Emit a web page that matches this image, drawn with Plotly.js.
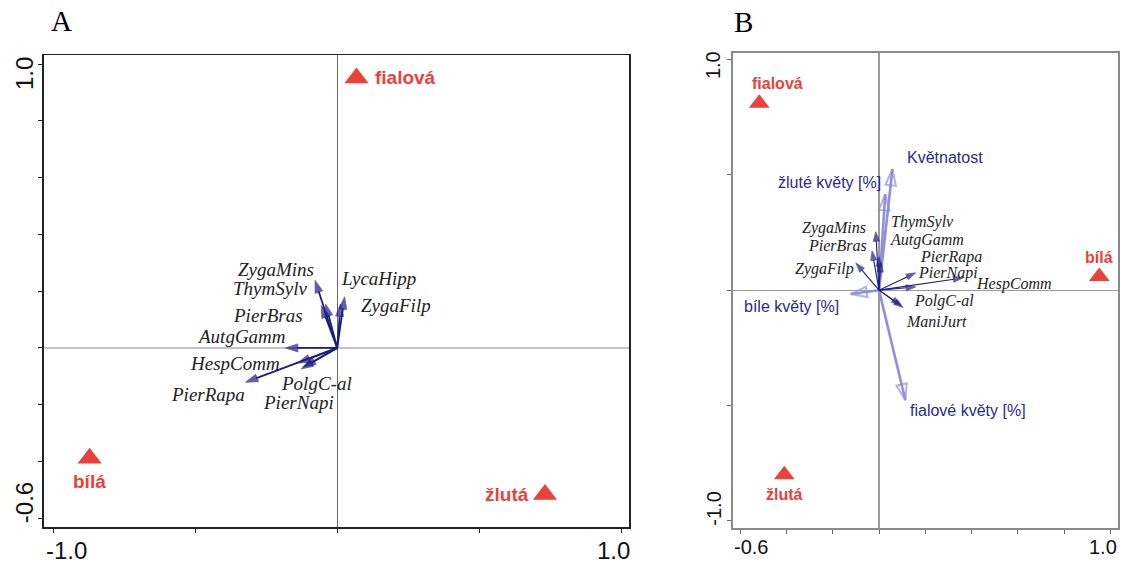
<!DOCTYPE html>
<html>
<head>
<meta charset="utf-8">
<script src="https://cdn.plot.ly/plotly-3.0.1.min.js"></script>
<style>
  html, body { margin: 0; padding: 0; background: #fff; }
  #chart { width: 1124px; height: 563px; }
</style>
</head>
<body>
<div id="chart"></div>
<script>
// ---------- Panel A: flower colour centroids and butterfly species ----------
const colourNamesA = ['fialová', 'bílá', 'žlutá'];
const colourXA = [0.068, -0.872, 0.732];
const colourYA = [0.951, -0.389, -0.516];

const speciesA = ['ZygaMins', 'ThymSylv', 'PierBras', 'LycaHipp', 'ZygaFilp',
                  'AutgGamm', 'HespComm', 'PolgC-al', 'PierNapi', 'PierRapa'];
const speciesXA = [-0.078, -0.041, -0.056, 0.026, 0.012, -0.182, -0.139, -0.119, -0.127, -0.323];
const speciesYA = [0.238, 0.155, 0.149, 0.180, 0.155, 0.000, -0.053, -0.067, -0.074, -0.121];

// ---------- Panel B: flower colour centroids, species and explanatory variables ----------
const colourNamesB = ['fialová', 'bílá', 'žlutá'];
const colourXB = [-0.517, 0.951, -0.409];
const colourYB = [0.810, 0.059, -0.800];

const speciesB = ['ZygaMins', 'PierBras', 'ZygaFilp', 'ThymSylv', 'AutgGamm',
                  'PierRapa', 'PierNapi', 'HespComm', 'PolgC-al', 'ManiJurt'];
const speciesXB = [-0.014, -0.030, -0.100, 0.000, 0.008, 0.158, 0.158, 0.362, 0.095, 0.104];
const speciesYB = [0.253, 0.170, 0.118, 0.145, 0.120, 0.075, 0.014, 0.053, -0.065, -0.075];

const envB = ['Květnatost', 'žluté květy [%]', 'bíle květy [%]', 'fialové květy [%]'];
const envXB = [0.058, 0.027, -0.122, 0.114];
const envYB = [0.524, 0.416, -0.017, -0.477];

// ---------- label placement (pixel offsets from the arrow tip / marker) ----------
const labelShiftA = {
  'ZygaMins': [-39, 11], 'ThymSylv': [-56, 15], 'PierBras': [-53, -10],
  'LycaHipp': [34, 18], 'ZygaFilp': [55, -2], 'AutgGamm': [-44, 11],
  'HespComm': [-63, -1], 'PolgC-al': [13, -17], 'PierNapi': [-3, -34],
  'PierRapa': [-38, -12]
};
const labelShiftB = {
  'ZygaMins': [-42, 4], 'PierBras': [-35, 5], 'ZygaFilp': [-31, -6],
  'ThymSylv': [43, 35], 'AutgGamm': [46, 22], 'PierRapa': [35, 16],
  'PierNapi': [32, 14], 'HespComm': [51, -6], 'PolgC-al': [43, 4],
  'ManiJurt': [33, -14]
};
const envShiftB = {
  'Květnatost': [53, 12], 'žluté květy [%]': [-56, 12],
  'bíle květy [%]': [-59, -12], 'fialové květy [%]': [63, -10]
};
// colour label: [xanchor, xshift, yshift]
const colourLabelA = { 'fialová': ['left', 16, 0], 'bílá': ['center', 0, -23], 'žlutá': ['right', -14, 0] };
const colourLabelB = { 'fialová': ['left', -9, 20], 'bílá': ['center', 0, 19], 'žlutá': ['center', 0, -20] };

const RED = '#e8423b';
const NAVY = '#1c1c84';
const LILAC = '#8f8fdc';
const ENVTEXT = '#2a2a8c';
const SANS = 'Liberation Sans, Arial, sans-serif';
const SERIF = 'Liberation Serif, Times New Roman, serif';

const traces = [];
const annotations = [];

function arrowTrace(xa, ya, tx, ty, color, width, symbol, size, headLine) {
  return {
    type: 'scatter', mode: 'lines+markers', xaxis: xa, yaxis: ya,
    x: [0, tx], y: [0, ty],
    line: { color: color, width: width },
    marker: {
      symbol: ['circle', symbol], size: [0, size], color: color,
      angleref: 'previous', line: { color: color, width: headLine }
    },
    hoverinfo: 'skip', showlegend: false, cliponaxis: false
  };
}

// species arrows and their italic names
function addSpecies(names, xs, ys, shifts, xa, ya, width, head, fontSize) {
  names.forEach((n, i) => {
    traces.push(arrowTrace(xa, ya, xs[i], ys[i], NAVY, width, 'arrow', head, 0.8));
    annotations.push({
      x: xs[i], y: ys[i], xref: xa, yref: ya, showarrow: false,
      text: '<i>' + n + '</i>', xshift: shifts[n][0], yshift: shifts[n][1],
      font: { family: SERIF, size: fontSize, color: '#222' }
    });
  });
}

// colour centroids as red triangles
function addColours(names, xs, ys, place, xa, ya, size, fontSize) {
  traces.push({
    type: 'scatter', mode: 'markers', xaxis: xa, yaxis: ya, x: xs, y: ys,
    marker: { symbol: 'triangle-up', size: size, color: RED },
    hoverinfo: 'skip', showlegend: false, cliponaxis: false
  });
  names.forEach((n, i) => {
    const p = place[n];
    annotations.push({
      x: xs[i], y: ys[i], xref: xa, yref: ya, showarrow: false, text: '<b>' + n + '</b>',
      xanchor: p[0], xshift: p[1], yshift: p[2],
      font: { family: SANS, size: fontSize, color: RED }
    });
  });
}

// Panel A
addSpecies(speciesA, speciesXA, speciesYA, labelShiftA, 'x', 'y', 1.8, 13, 19);
addColours(colourNamesA, colourXA, colourYA, colourLabelA, 'x', 'y', 21, 19);

// Panel B: explanatory variables first, species on top
envB.forEach((n, i) => {
  traces.push(arrowTrace('x2', 'y2', envXB[i], envYB[i], LILAC, 2.6, 'arrow-open', 17, 2));
  annotations.push({
    x: envXB[i], y: envYB[i], xref: 'x2', yref: 'y2', showarrow: false, text: n,
    xshift: envShiftB[n][0], yshift: envShiftB[n][1],
    font: { family: SANS, size: 16, color: ENVTEXT }
  });
});
addSpecies(speciesB, speciesXB, speciesYB, labelShiftB, 'x2', 'y2', 1.1, 10, 16);
addColours(colourNamesB, colourXB, colourYB, colourLabelB, 'x2', 'y2', 18, 16);

// axis end labels
function tickLabel(text, axis, value, other, dx, dy, angle, size) {
  const horiz = axis.startsWith('x');
  annotations.push({
    text: text, showarrow: false, textangle: angle,
    x: horiz ? value : 0, xref: horiz ? axis : other + ' domain',
    y: horiz ? 0 : value, yref: horiz ? other + ' domain' : axis,
    xshift: dx, yshift: dy, xanchor: 'center', yanchor: 'middle',
    font: { family: SANS, size: size, color: '#111' }
  });
}
tickLabel('-1.0', 'x', -1, 'y', 13, -23, 0, 24);
tickLabel('1.0', 'x', 1, 'y', -8, -23, 0, 24);
tickLabel('1.0', 'y', 1, 'x', -20, -9, -90, 24);
tickLabel('-0.6', 'y', -0.6, 'x', -20, 16, -90, 24);
tickLabel('-0.6', 'x2', -0.6, 'y2', 11, -19, 0, 20);
tickLabel('1.0', 'x2', 1, 'y2', -8, -19, 0, 20);
tickLabel('1.0', 'y2', 1, 'x2', -19, -6, -90, 20);
tickLabel('-1.0', 'y2', -1, 'x2', -19, 12, -90, 20);

// panel letters (positions given in pixels, converted to paper fractions)
const letters = [['A', 61, 21], ['B', 743, 22]];
letters.forEach(([t, px, py]) => annotations.push({
  text: t, x: px / 1124, y: 1 - py / 563, xref: 'paper', yref: 'paper', showarrow: false,
  xanchor: 'center', yanchor: 'middle',
  font: { family: SERIF, size: 29, color: '#000' }
}));

function axisStyle(extra, lineColor, tickColor) {
  return Object.assign({
    showgrid: false, showticklabels: false, ticks: 'outside', ticklen: 4, tickwidth: 1,
    tickcolor: tickColor, showline: true, mirror: true, linecolor: lineColor, linewidth: 1.5,
    tickmode: 'array', fixedrange: true
  }, extra);
}

const layout = {
  width: 1124, height: 563,
  margin: { l: 0, r: 0, t: 0, b: 0 },
  paper_bgcolor: '#fff', plot_bgcolor: '#fff',
  showlegend: false,
  xaxis: axisStyle({ domain: [0.0391, 0.5599], range: [-1.033, 1.029],
    tickvals: [-1, -0.5, 0, 0.5, 1], zeroline: true, zerolinecolor: '#6a6a6a', zerolinewidth: 1,
    anchor: 'y' }, '#222', '#222'),
  yaxis: axisStyle({ domain: [0.0639, 0.9023], range: [-0.631, 1.032],
    tickvals: [-0.6, -0.4, -0.2, 0, 0.2, 0.4, 0.6, 0.8, 1.0], zeroline: true,
    zerolinecolor: '#c4c4c4', zerolinewidth: 2, anchor: 'x' }, '#222', '#222'),
  xaxis2: axisStyle({ domain: [0.6519, 0.9949], range: [-0.6315, 1.033],
    tickvals: [-0.6, -0.4, -0.2, 0, 0.2, 0.4, 0.6, 0.8, 1.0], zeroline: true,
    zerolinecolor: '#9a9a9a', zerolinewidth: 1.2, anchor: 'y2' }, '#8a8a8a', '#666'),
  yaxis2: axisStyle({ domain: [0.0616, 0.9064], range: [-1.032, 1.029],
    tickvals: [-1, -0.5, 0, 0.5, 1], zeroline: true,
    zerolinecolor: '#9a9a9a', zerolinewidth: 1.2, anchor: 'x2' }, '#8a8a8a', '#666'),
  annotations: annotations
};

Plotly.newPlot('chart', traces, layout, { displayModeBar: false, staticPlot: true });
</script>
</body>
</html>
